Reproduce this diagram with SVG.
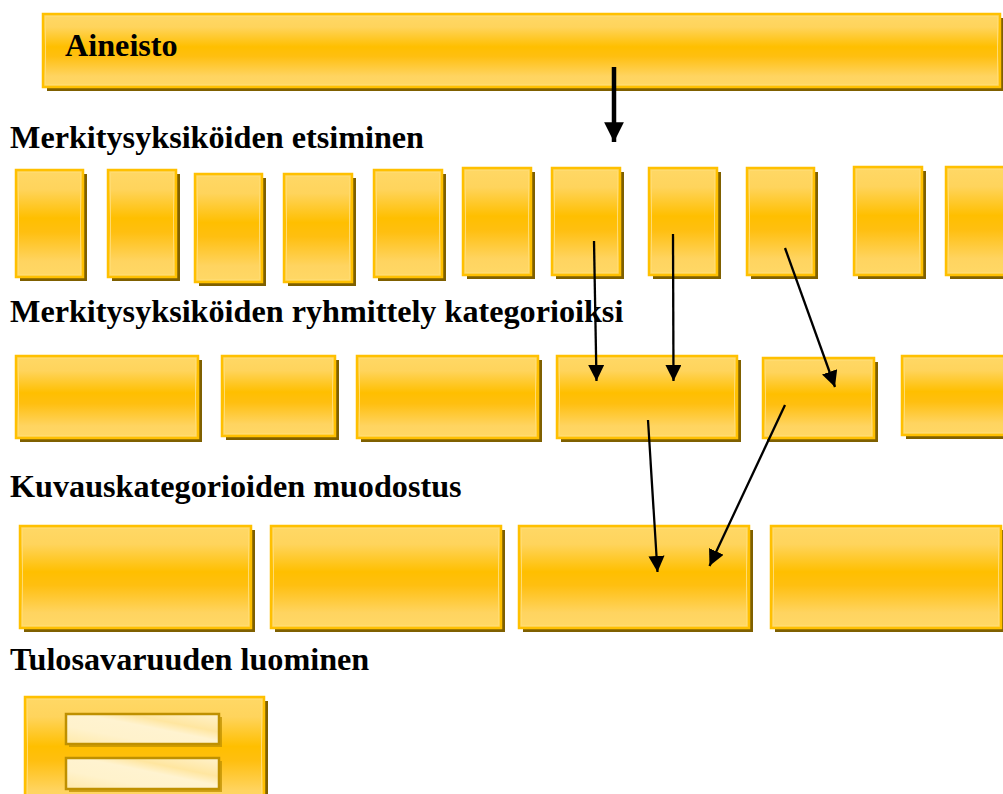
<svg xmlns="http://www.w3.org/2000/svg" width="1003" height="794" viewBox="0 0 1003 794">
  <defs>
    <!-- golden bevel fill used by every box -->
    <linearGradient id="gold" x1="0" y1="0" x2="0" y2="1">
      <stop offset="0" stop-color="#FFD866"/>
      <stop offset="0.18" stop-color="#FFD45C"/>
      <stop offset="0.45" stop-color="#FFBF00"/>
      <stop offset="0.58" stop-color="#FFBF10"/>
      <stop offset="0.85" stop-color="#FFD460"/>
      <stop offset="1" stop-color="#FFD866"/>
    </linearGradient>
    <linearGradient id="cream" x1="0" y1="1" x2="1" y2="0">
      <stop offset="0" stop-color="#FFE9A8"/>
      <stop offset="0.3" stop-color="#FFF2CC"/>
      <stop offset="0.55" stop-color="#FFF3D0"/>
      <stop offset="0.7" stop-color="#FFE6A0"/>
      <stop offset="1" stop-color="#FFF2CC"/>
    </linearGradient>
    <marker id="head" viewBox="0 0 10 10" refX="10" refY="5" markerWidth="7" markerHeight="7" orient="auto" markerUnits="strokeWidth">
      <path d="M0,0 L10,5 L0,10 z" fill="#000"/>
    </marker>
    <marker id="bighead" viewBox="0 0 10 10" refX="10" refY="5" markerWidth="4.4" markerHeight="4.4" orient="auto" markerUnits="strokeWidth">
      <path d="M0,0 L10,5 L0,10 z" fill="#000"/>
    </marker>
  </defs>
  <style>
    .sh { fill: #7F6000; }
    .bx { fill: url(#gold); stroke: #FFC000; stroke-width: 2.5; }
    .hl { fill: none; stroke: #FFDB70; stroke-width: 1; }
    .bar-sh { fill: #BF9000; opacity: 0.75; }
    .bar { fill: url(#cream); stroke: #BF9000; stroke-width: 2.5; }
    .lbl { font-family: "Liberation Serif", "Times New Roman", serif; font-weight: bold; font-size: 32.2px; fill: #000; }
    .conn { stroke: #000; stroke-width: 2.3; fill: none; marker-end: url(#head); }
    .thick { stroke: #000; stroke-width: 4.5; fill: none; marker-end: url(#bighead); }
  </style>

  <rect width="1003" height="794" fill="#fff"/>

  <!-- header box -->
  <g id="aineisto">
    <rect class="sh" x="47" y="18" width="957" height="73"/>
    <rect class="bx" x="43" y="14" width="957" height="73"/>
    <rect class="hl" x="45.5" y="16.5" width="952" height="68"/>
    <text class="lbl" x="65" y="56">Aineisto</text>
  </g>

  <!-- section headings -->
  <text class="lbl" x="10" y="148">Merkitysyksiköiden etsiminen</text>
  <text class="lbl" x="10" y="322">Merkitysyksiköiden ryhmittely kategorioiksi</text>
  <text class="lbl" x="10" y="497">Kuvauskategorioiden muodostus</text>
  <text class="lbl" x="10" y="670">Tulosavaruuden luominen</text>

  <!-- row 1: meaning units -->
  <g id="unit-1"><rect class="sh" x="20" y="174" width="67" height="107"/><rect class="bx" x="16" y="170" width="67" height="107"/><rect class="hl" x="18.5" y="172.5" width="62" height="102"/></g>
  <g id="unit-2"><rect class="sh" x="112" y="174" width="68" height="107"/><rect class="bx" x="108" y="170" width="68" height="107"/><rect class="hl" x="110.5" y="172.5" width="63" height="102"/></g>
  <g id="unit-3"><rect class="sh" x="199" y="178" width="67" height="108"/><rect class="bx" x="195" y="174" width="67" height="108"/><rect class="hl" x="197.5" y="176.5" width="62" height="103"/></g>
  <g id="unit-4"><rect class="sh" x="288" y="178" width="68" height="108"/><rect class="bx" x="284" y="174" width="68" height="108"/><rect class="hl" x="286.5" y="176.5" width="63" height="103"/></g>
  <g id="unit-5"><rect class="sh" x="378" y="174" width="68" height="107"/><rect class="bx" x="374" y="170" width="68" height="107"/><rect class="hl" x="376.5" y="172.5" width="63" height="102"/></g>
  <g id="unit-6"><rect class="sh" x="467" y="172" width="68" height="107"/><rect class="bx" x="463" y="168" width="68" height="107"/><rect class="hl" x="465.5" y="170.5" width="63" height="102"/></g>
  <g id="unit-7"><rect class="sh" x="556" y="172" width="68" height="107"/><rect class="bx" x="552" y="168" width="68" height="107"/><rect class="hl" x="554.5" y="170.5" width="63" height="102"/></g>
  <g id="unit-8"><rect class="sh" x="653" y="172" width="68" height="107"/><rect class="bx" x="649" y="168" width="68" height="107"/><rect class="hl" x="651.5" y="170.5" width="63" height="102"/></g>
  <g id="unit-9"><rect class="sh" x="751" y="172" width="67" height="107"/><rect class="bx" x="747" y="168" width="67" height="107"/><rect class="hl" x="749.5" y="170.5" width="62" height="102"/></g>
  <g id="unit-10"><rect class="sh" x="858" y="171" width="68" height="108"/><rect class="bx" x="854" y="167" width="68" height="108"/><rect class="hl" x="856.5" y="169.5" width="63" height="103"/></g>
  <g id="unit-11"><rect class="sh" x="950" y="171" width="68" height="108"/><rect class="bx" x="946" y="167" width="68" height="108"/><rect class="hl" x="948.5" y="169.5" width="63" height="103"/></g>

  <!-- row 2: groupings -->
  <g id="group-1"><rect class="sh" x="20" y="360" width="182" height="82"/><rect class="bx" x="16" y="356" width="182" height="82"/><rect class="hl" x="18.5" y="358.5" width="177" height="77"/></g>
  <g id="group-2"><rect class="sh" x="226" y="360" width="113" height="80"/><rect class="bx" x="222" y="356" width="113" height="80"/><rect class="hl" x="224.5" y="358.5" width="108" height="75"/></g>
  <g id="group-3"><rect class="sh" x="361" y="360" width="181" height="82"/><rect class="bx" x="357" y="356" width="181" height="82"/><rect class="hl" x="359.5" y="358.5" width="176" height="77"/></g>
  <g id="group-4"><rect class="sh" x="561" y="360" width="180" height="82"/><rect class="bx" x="557" y="356" width="180" height="82"/><rect class="hl" x="559.5" y="358.5" width="175" height="77"/></g>
  <g id="group-5"><rect class="sh" x="767" y="362" width="111" height="80"/><rect class="bx" x="763" y="358" width="111" height="80"/><rect class="hl" x="765.5" y="360.5" width="106" height="75"/></g>
  <g id="group-6"><rect class="sh" x="906" y="360" width="110" height="79"/><rect class="bx" x="902" y="356" width="110" height="79"/><rect class="hl" x="904.5" y="358.5" width="105" height="74"/></g>

  <!-- row 3: description categories -->
  <g id="category-1"><rect class="sh" x="24" y="530" width="231" height="102"/><rect class="bx" x="20" y="526" width="231" height="102"/><rect class="hl" x="22.5" y="528.5" width="226" height="97"/></g>
  <g id="category-2"><rect class="sh" x="275" y="530" width="230" height="102"/><rect class="bx" x="271" y="526" width="230" height="102"/><rect class="hl" x="273.5" y="528.5" width="225" height="97"/></g>
  <g id="category-3"><rect class="sh" x="523" y="530" width="230" height="102"/><rect class="bx" x="519" y="526" width="230" height="102"/><rect class="hl" x="521.5" y="528.5" width="225" height="97"/></g>
  <g id="category-4"><rect class="sh" x="775" y="530" width="230" height="102"/><rect class="bx" x="771" y="526" width="230" height="102"/><rect class="hl" x="773.5" y="528.5" width="225" height="97"/></g>

  <!-- row 4: outcome space -->
  <g id="outcome-space">
    <rect class="sh" x="29" y="701" width="239" height="110"/>
    <rect class="bx" x="25" y="697" width="239" height="110"/>
    <rect class="hl" x="27.5" y="699.5" width="234" height="105"/>
    <rect class="bar-sh" x="69" y="717" width="153" height="30"/>
    <rect class="bar" x="66" y="714" width="153" height="30"/>
    <rect class="bar-sh" x="69" y="761" width="153" height="31"/>
    <rect class="bar" x="66" y="758" width="153" height="31"/>
  </g>

  <!-- connectors -->
  <g id="connectors">
    <line class="thick" x1="614" y1="67" x2="614" y2="142"/>
    <line class="conn" x1="594" y1="241" x2="596.5" y2="381"/>
    <line class="conn" x1="673" y1="234" x2="673.5" y2="381"/>
    <line class="conn" x1="785" y1="248" x2="835" y2="387"/>
    <line class="conn" x1="648" y1="420" x2="657.5" y2="572"/>
    <line class="conn" x1="785" y1="405" x2="709.5" y2="566"/>
  </g>
</svg>
